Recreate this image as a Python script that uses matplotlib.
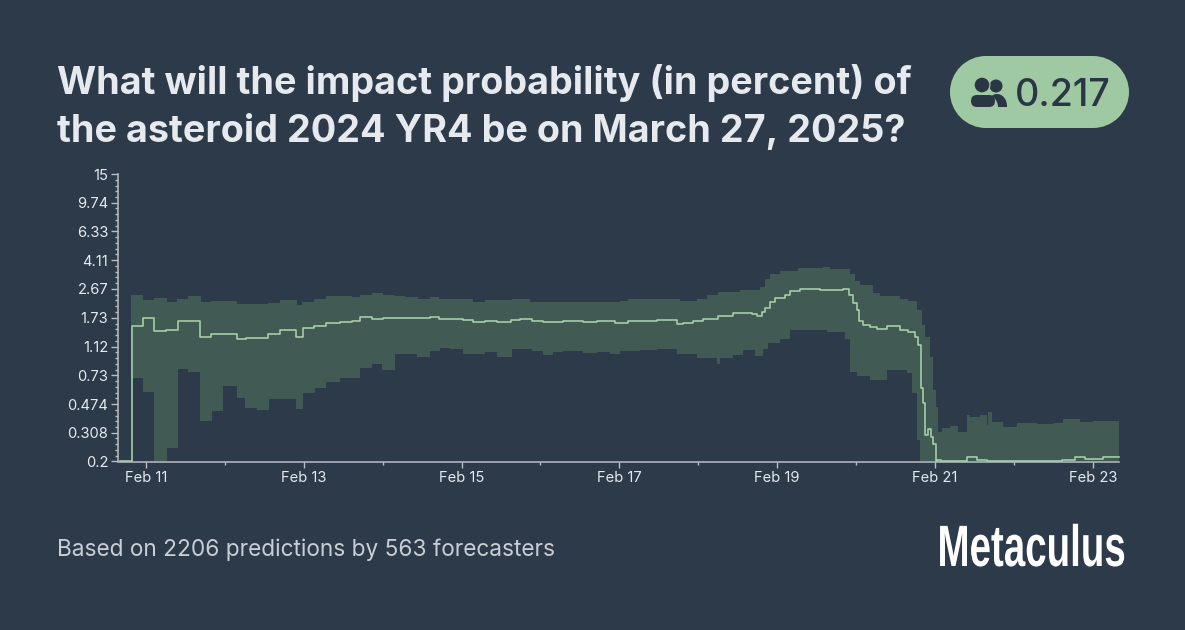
import numpy as np
import matplotlib
matplotlib.use("Agg")
import matplotlib.pyplot as plt
from matplotlib.patches import FancyBboxPatch, Circle, Ellipse, Rectangle
from matplotlib.patheffects import AbstractPathEffect
from matplotlib.transforms import Affine2D

plt.rcParams['font.family'] = ['Inter', 'DejaVu Sans']

# dates are day of February, each value holds until the next date
end_day = 23.326

median_days = [10.67, 10.818, 10.958, 11.106, 11.253, 11.401, 11.684, 11.824, 12.149, 12.263, 12.403, 12.551,
               12.698, 12.897, 12.986, 13.134, 13.277, 13.459, 13.607, 13.712, 13.86, 13.999, 14.156, 14.283,
               14.6, 14.718, 15.022, 15.148, 15.296, 15.444, 15.626, 15.74, 15.888, 16.036, 16.289, 16.543,
               16.712, 16.944, 17.113, 17.366, 17.472, 17.599, 17.726, 17.81, 17.937, 18.064, 18.254, 18.444,
               18.676, 18.74, 18.803, 18.845, 18.909, 18.972, 19.099, 19.162, 19.289, 19.542, 19.606, 19.838,
               19.914, 19.956, 20.007, 20.037, 20.092, 20.176, 20.261, 20.387, 20.556, 20.662, 20.747, 20.789,
               20.818, 20.852, 20.873, 20.915, 20.945, 20.979, 21.008, 21.021, 21.08, 21.401, 21.528, 21.655,
               22.605, 22.774, 22.901, 23.133]
median_vals = [0.2, 1.54, 1.72, 1.41, 1.45, 1.66, 1.30, 1.36, 1.26, 1.28, 1.27, 1.35,
               1.44, 1.30, 1.48, 1.52, 1.61, 1.63, 1.66, 1.74, 1.70, 1.73, 1.72, 1.72,
               1.76, 1.71, 1.68, 1.62, 1.65, 1.62, 1.68, 1.70, 1.64, 1.62, 1.65, 1.63,
               1.64, 1.61, 1.66, 1.64, 1.67, 1.68, 1.58, 1.61, 1.65, 1.70, 1.78, 1.86,
               1.83, 1.78, 1.88, 2.02, 2.20, 2.33, 2.43, 2.59, 2.66, 2.62, 2.64, 2.68,
               2.43, 2.17, 1.95, 1.64, 1.56, 1.50, 1.46, 1.52, 1.45, 1.39, 1.29, 1.15,
               0.60, 0.48, 0.298, 0.325, 0.29, 0.262, 0.2, 0.205, 0.2, 0.213, 0.205, 0.2,
               0.205, 0.214, 0.208, 0.214]

upper_days = [10.81, 10.966, 11.106, 11.262, 11.397, 11.537, 11.697, 11.82, 12.149, 12.551, 12.698, 12.91,
              12.981, 13.134, 13.277, 13.607, 13.712, 13.86, 13.999, 14.156, 14.283, 14.452, 14.6, 14.718,
              15.148, 15.296, 15.634, 15.867, 17.007, 17.113, 17.768, 17.979, 18.106, 18.254, 18.528, 18.782,
              18.845, 18.909, 19.036, 19.268, 19.585, 19.669, 19.923, 19.986, 20.05, 20.219, 20.303, 20.556,
              20.662, 20.768, 20.831, 20.873, 20.937, 20.979, 21.008, 21.042, 21.085, 21.19, 21.296, 21.401,
              21.444, 21.571, 21.655, 21.676, 21.718, 21.866, 22.035, 22.289, 22.5, 22.627, 22.838, 23.007]
upper_vals = [2.43, 2.26, 2.33, 2.18, 2.30, 2.40, 2.20, 2.22, 2.13, 2.16, 2.26, 2.10,
              2.19, 2.29, 2.41, 2.37, 2.45, 2.50, 2.42, 2.39, 2.35, 2.30, 2.35, 2.29,
              2.20, 2.25, 2.28, 2.21, 2.23, 2.28, 2.22, 2.31, 2.43, 2.55, 2.62, 2.75,
              3.10, 3.34, 3.51, 3.64, 3.73, 3.62, 3.34, 3.02, 2.82, 2.50, 2.41, 2.31,
              2.22, 1.94, 1.55, 1.30, 0.96, 0.585, 0.455, 0.31, 0.33, 0.34, 0.31, 0.40,
              0.39, 0.40, 0.346, 0.42, 0.36, 0.336, 0.355, 0.35, 0.357, 0.38, 0.36, 0.37]

lower_days = [10.81, 10.958, 11.106, 11.262, 11.401, 11.537, 11.684, 11.832, 11.98, 12.149, 12.255, 12.411,
              12.559, 12.897, 12.986, 13.142, 13.281, 13.459, 13.712, 13.86, 13.995, 14.156, 14.43, 14.6,
              14.726, 14.853, 15.022, 15.296, 15.444, 15.634, 15.888, 16.036, 16.162, 16.289, 16.543, 16.712,
              16.881, 17.007, 17.261, 17.472, 17.726, 17.979, 18.233, 18.275, 18.444, 18.571, 18.718, 18.824,
              18.888, 19.036, 19.162, 19.331, 19.627, 19.859, 19.923, 20.007, 20.176, 20.387, 20.641, 20.704,
              20.768, 20.81]
lower_vals = [0.70, 0.565, 0.2, 0.245, 0.80, 0.77, 0.365, 0.43, 0.62, 0.517, 0.447, 0.435,
              0.51, 0.437, 0.558, 0.60, 0.66, 0.70, 0.82, 0.865, 0.79, 1.00, 0.96, 1.05,
              1.10, 1.08, 1.00, 1.04, 0.955, 1.09, 1.05, 0.99, 1.04, 1.05, 1.02, 1.04,
              1.01, 1.05, 1.06, 1.09, 1.00, 0.95, 0.87, 0.94, 0.99, 1.06, 0.97, 1.09,
              1.18, 1.26, 1.44, 1.45, 1.40, 1.26, 0.77, 0.72, 0.68, 0.79, 0.75, 0.56,
              0.276, 0.2]

y_ticks = [0.2, 0.308, 0.474, 0.73, 1.12, 1.73, 2.67, 4.11, 6.33, 9.74, 15]
y_labels = ['0.2', '0.308', '0.474', '0.73', '1.12', '1.73', '2.67', '4.11', '6.33', '9.74', '15']
x_ticks = [11, 13, 15, 17, 19, 21, 23]
x_labels = ['Feb 11', 'Feb 13', 'Feb 15', 'Feb 17', 'Feb 19', 'Feb 21', 'Feb 23']
x_minor = [12, 14, 16, 18, 20, 22]

title_lines = ['What will the impact probability (in percent) of', 'the asteroid 2024 YR4 be on March 27, 2025?']
footer = 'Based on 2206 predictions by 563 forecasters'
badge_value = '0.217'

bg = '#2d3a4a'
green = '#9fc9a2'
band = '#415a54'
text_col = '#e6e9ed'
axis_col = '#b9bec4'
W, H = 1185, 630


class SqueezeX(AbstractPathEffect):
    # narrows the drawn glyphs around a fixed pixel x
    def __init__(self, sx, x0):
        super().__init__()
        self.sx, self.x0 = sx, x0

    def draw_path(self, renderer, gc, tpath, affine, rgbFace=None):
        squeeze = Affine2D().translate(-self.x0, 0).scale(self.sx, 1).translate(self.x0, 0)
        renderer.draw_path(gc, tpath, affine + squeeze, rgbFace)


fig = plt.figure(figsize=(W / 100, H / 100), dpi=100, facecolor=bg)

# page layer in pixel coordinates
page = fig.add_axes([0, 0, 1, 1])
page.set_xlim(0, W)
page.set_ylim(H, 0)
page.axis('off')

page.text(57, 93.5, title_lines[0], fontsize=27.2, fontweight='bold', color=text_col, va='baseline', ha='left')
page.text(57, 141.5, title_lines[1], fontsize=27.2, fontweight='bold', color=text_col, va='baseline', ha='left')
page.text(57, 556, footer, fontsize=16.3, color='#c9ced4', va='baseline', ha='left')

page.add_patch(Rectangle((986, 56), 107, 72, fc=green, ec='none'))
page.add_patch(Circle((986, 92), 36, fc=green, ec='none'))
page.add_patch(Circle((1093, 92), 36, fc=green, ec='none'))

icon = '#2b3644'
page.add_patch(Circle((996, 86), 6.5, fc=icon, ec='none'))
page.add_patch(Ellipse((997, 106), 20, 24, fc=icon, ec='none'))
page.add_patch(Rectangle((985, 107), 24, 12, fc=green, ec='none'))
page.add_patch(Circle((982, 85), 8.5, fc=green, ec='none'))
page.add_patch(Circle((982, 85), 7.3, fc=icon, ec='none'))
page.add_patch(Ellipse((983, 107), 30, 27, fc=green, ec='none'))
page.add_patch(FancyBboxPatch((971, 95), 24, 12, boxstyle='round,pad=0,rounding_size=6', fc=icon, ec='none'))
page.text(1015, 106, badge_value, fontsize=27, fontweight='medium', color=icon, va='baseline', ha='left')

# right aligned so the unsqueezed text box stays inside the page
logo_right = 1126
page.text(logo_right, 566, 'Metaculus', fontsize=42, fontweight='bold', color='white', va='baseline', ha='right',
          family=['Liberation Sans Narrow', 'Liberation Sans'],
          path_effects=[SqueezeX(0.66, logo_right)])

# chart
ax = fig.add_axes([118 / W, 1 - 461.5 / H, (1118.5 - 118) / W, (461.5 - 174) / H])
ax.set_facecolor('none')
ax.set_yscale('log')
ax.set_xlim(10.645, end_day)
ax.set_ylim(0.2, 15)

grid = np.union1d(np.r_[upper_days, end_day], np.r_[lower_days, end_day])
up = np.array(upper_vals)[np.searchsorted(upper_days, grid, side='right') - 1]
lo = np.array(lower_vals)[np.searchsorted(lower_days, grid, side='right') - 1]
ax.fill_between(grid, lo, up, step='post', color=band, linewidth=0, zorder=1)

ax.step(np.r_[median_days, end_day], np.r_[median_vals, median_vals[-1]], where='post', color='#a8d2aa',
        linewidth=1.15, zorder=3, clip_on=False)

for s in ['top', 'right']:
    ax.spines[s].set_visible(False)
for s in ['left', 'bottom']:
    ax.spines[s].set_color(axis_col)
    ax.spines[s].set_linewidth(1.1)

ax.set_yticks(y_ticks)
ax.set_yticklabels(y_labels)
y_minor = []
for a, b in zip(y_ticks[:-1], y_ticks[1:]):
    y_minor += list(np.geomspace(a, b, 6)[1:-1])
ax.set_yticks(y_minor, minor=True)
ax.set_yticklabels([], minor=True)
ax.set_xticks(x_ticks)
ax.set_xticklabels(x_labels)
ax.set_xticks(x_minor, minor=True)

ax.tick_params(axis='y', which='major', length=5, width=1, color=axis_col, labelcolor=text_col, labelsize=10.6, pad=2)
ax.tick_params(axis='y', which='minor', length=2.5, width=1, color=axis_col)
ax.tick_params(axis='x', which='major', length=4, width=1, color=axis_col, labelcolor=text_col, labelsize=10.6, pad=3)
ax.tick_params(axis='x', which='minor', length=2, width=1, color=axis_col)

fig.savefig('out.png', dpi=100, facecolor=bg)
